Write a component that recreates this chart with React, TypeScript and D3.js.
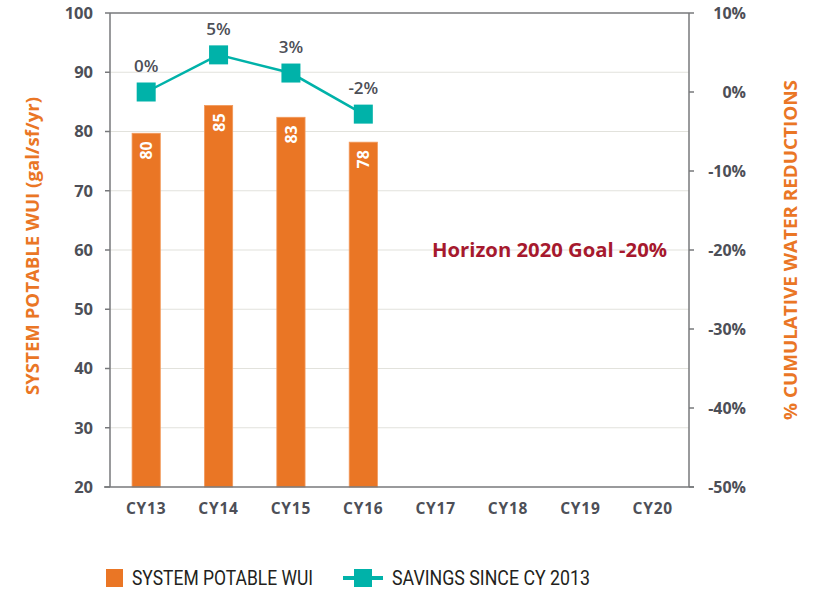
import React, { useRef, useEffect } from "react";
import * as d3 from "d3";

const years = ["CY13", "CY14", "CY15", "CY16", "CY17", "CY18", "CY19", "CY20"];
const wuiYears = ["CY13", "CY14", "CY15", "CY16"];
const wuiValues = [79.7, 84.4, 82.4, 78.2];
const wuiLabels = ["80", "85", "83", "78"];
const savingsValues = [0, 4.7, 2.4, -2.8];
const savingsLabels = ["0%", "5%", "3%", "-2%"];
const leftTicks = [20, 30, 40, 50, 60, 70, 80, 90, 100];
const rightTicks = [10, 0, -10, -20, -30, -40, -50];

const ORANGE = "#ea7625";
const TEAL = "#00b2a9";
const GREY = "#4d4f57";
const AXIS = "#77787b";
const FONT = "'Open Sans', Lato, sans-serif";
const LEGEND_FONT = "'Liberation Sans Narrow', Roboto, sans-serif";

const App: React.FC = () => {
  const ref = useRef<SVGSVGElement | null>(null);

  useEffect(() => {
    if (!ref.current) return;
    const svg = d3.select(ref.current);
    svg.selectAll("*").remove();

    const left = 110;
    const right = 689;
    const top = 13;
    const bottom = 487;

    const x = d3.scaleBand().domain(years).range([left, right]).paddingInner(0.61).paddingOuter(0.305);
    const yL = d3.scaleLinear().domain([20, 100]).range([bottom, top]);
    const yR = d3.scaleLinear().domain([-50, 10]).range([bottom, top]);
    const cx = (c: string) => x(c)! + x.bandwidth() / 2;

    // grid
    svg
      .append("g")
      .selectAll("line")
      .data(leftTicks.slice(1, -1))
      .enter()
      .append("line")
      .attr("x1", left)
      .attr("x2", right)
      .attr("y1", (d) => yL(d))
      .attr("y2", (d) => yL(d))
      .attr("stroke", "#e2e2dc")
      .attr("stroke-width", 1.2);

    // bars
    svg
      .append("g")
      .selectAll("rect")
      .data(wuiValues)
      .enter()
      .append("rect")
      .attr("x", (_, i) => x(wuiYears[i])!)
      .attr("width", x.bandwidth())
      .attr("y", (d) => yL(d))
      .attr("height", (d) => bottom - yL(d))
      .attr("fill", ORANGE)
      .attr("stroke", "#f29a5c")
      .attr("stroke-width", 0.8);

    svg
      .append("g")
      .selectAll("text")
      .data(wuiValues)
      .enter()
      .append("text")
      .attr("transform", (d, i) => `translate(${cx(wuiYears[i]) + 6},${yL(d) + 8}) rotate(-90)`)
      .attr("text-anchor", "end")
      .attr("fill", "#fff")
      .attr("font-family", FONT)
      .attr("font-weight", 700)
      .attr("font-size", 16)
      .text((_, i) => wuiLabels[i]);

    // frame
    const frame = svg.append("g").attr("stroke", AXIS).attr("stroke-width", 1.5).attr("fill", "none");
    frame.append("line").attr("x1", left).attr("x2", right).attr("y1", top).attr("y2", top);
    frame.append("line").attr("x1", left - 6).attr("x2", right + 5).attr("y1", bottom).attr("y2", bottom);
    frame.append("line").attr("x1", left).attr("x2", left).attr("y1", top).attr("y2", bottom);
    frame.append("line").attr("x1", right).attr("x2", right).attr("y1", top).attr("y2", bottom);

    // left axis
    const gL = svg.append("g");
    gL.selectAll("line")
      .data(leftTicks)
      .enter()
      .append("line")
      .attr("x1", left - 5)
      .attr("x2", left)
      .attr("y1", (d) => yL(d))
      .attr("y2", (d) => yL(d))
      .attr("stroke", AXIS)
      .attr("stroke-width", 1.5);
    gL.selectAll("text")
      .data(leftTicks)
      .enter()
      .append("text")
      .attr("x", 93)
      .attr("y", (d) => yL(d))
      .attr("dy", "0.35em")
      .attr("text-anchor", "end")
      .attr("fill", GREY)
      .attr("font-family", FONT)
      .attr("font-weight", 700)
      .attr("font-size", 16.5)
      .text((d) => d);

    // right axis
    const gR = svg.append("g");
    gR.selectAll("line")
      .data(rightTicks)
      .enter()
      .append("line")
      .attr("x1", right)
      .attr("x2", right + 5)
      .attr("y1", (d) => yR(d))
      .attr("y2", (d) => yR(d))
      .attr("stroke", AXIS)
      .attr("stroke-width", 1.5);
    gR.selectAll("text")
      .data(rightTicks)
      .enter()
      .append("text")
      .attr("x", 746)
      .attr("y", (d) => yR(d))
      .attr("dy", "0.35em")
      .attr("text-anchor", "end")
      .attr("fill", GREY)
      .attr("font-family", FONT)
      .attr("font-weight", 700)
      .attr("font-size", 16)
      .text((d) => `${d}%`);

    // x axis labels
    svg
      .append("g")
      .selectAll("text")
      .data(years)
      .enter()
      .append("text")
      .attr("x", (d) => cx(d))
      .attr("y", 514)
      .attr("text-anchor", "middle")
      .attr("fill", GREY)
      .attr("font-family", FONT)
      .attr("font-weight", 700)
      .attr("font-size", 15.5)
      .attr("letter-spacing", 0.8)
      .text((d) => d);

    // savings line
    const line = d3
      .line<number>()
      .x((_, i) => cx(wuiYears[i]))
      .y((d) => yR(d));
    svg
      .append("path")
      .datum(savingsValues)
      .attr("d", line)
      .attr("fill", "none")
      .attr("stroke", TEAL)
      .attr("stroke-width", 2.5);
    svg
      .append("g")
      .selectAll("rect")
      .data(savingsValues)
      .enter()
      .append("rect")
      .attr("x", (_, i) => cx(wuiYears[i]) - 9.5)
      .attr("y", (d) => yR(d) - 9.5)
      .attr("width", 19)
      .attr("height", 19)
      .attr("fill", TEAL);
    svg
      .append("g")
      .selectAll("text")
      .data(savingsValues)
      .enter()
      .append("text")
      .attr("x", (_, i) => cx(wuiYears[i]))
      .attr("y", (d) => yR(d) - 20)
      .attr("text-anchor", "middle")
      .attr("fill", GREY)
      .attr("font-family", FONT)
      .attr("font-weight", 600)
      .attr("font-size", 17)
      .text((_, i) => savingsLabels[i]);

    // goal annotation
    svg
      .append("text")
      .attr("x", 667)
      .attr("y", yR(-20))
      .attr("dy", "0.35em")
      .attr("text-anchor", "end")
      .attr("fill", "#a6192e")
      .attr("font-family", FONT)
      .attr("font-weight", 700)
      .attr("font-size", 19)
      .attr("textLength", 235)
      .attr("lengthAdjust", "spacingAndGlyphs")
      .text("Horizon 2020 Goal -20%");

    // axis titles
    svg
      .append("text")
      .attr("transform", `translate(39,${246}) rotate(-90)`)
      .attr("text-anchor", "middle")
      .attr("fill", ORANGE)
      .attr("font-family", FONT)
      .attr("font-weight", 700)
      .attr("font-size", 17)
      .attr("textLength", 298)
      .attr("lengthAdjust", "spacingAndGlyphs")
      .text("SYSTEM POTABLE WUI (gal/sf/yr)");
    svg
      .append("text")
      .attr("transform", `translate(797,${250}) rotate(-90)`)
      .attr("text-anchor", "middle")
      .attr("fill", ORANGE)
      .attr("font-family", FONT)
      .attr("font-weight", 700)
      .attr("font-size", 17)
      .attr("textLength", 340)
      .attr("lengthAdjust", "spacingAndGlyphs")
      .text("% CUMULATIVE WATER REDUCTIONS");

    // legend
    const lg = svg.append("g");
    lg.append("rect").attr("x", 106).attr("y", 569).attr("width", 17).attr("height", 18).attr("fill", ORANGE);
    lg.append("text")
      .attr("x", 132)
      .attr("y", 585)
      .attr("fill", "#231f20")
      .attr("font-family", LEGEND_FONT)
      .attr("font-size", 19.5)
      .attr("textLength", 181)
      .attr("lengthAdjust", "spacingAndGlyphs")
      .text("SYSTEM POTABLE WUI");
    lg.append("line")
      .attr("x1", 343)
      .attr("x2", 383)
      .attr("y1", 578)
      .attr("y2", 578)
      .attr("stroke", TEAL)
      .attr("stroke-width", 4);
    lg.append("rect").attr("x", 354).attr("y", 569).attr("width", 18).attr("height", 18).attr("fill", TEAL);
    lg.append("text")
      .attr("x", 392)
      .attr("y", 585)
      .attr("fill", "#231f20")
      .attr("font-family", LEGEND_FONT)
      .attr("font-size", 19.5)
      .attr("textLength", 198)
      .attr("lengthAdjust", "spacingAndGlyphs")
      .text("SAVINGS SINCE CY 2013");
  }, []);

  return (
    <svg
      ref={ref}
      width={820}
      height={593}
      style={{ display: "block", position: "absolute", left: 0, top: 0, background: "#fff" }}
    />
  );
};

export default App;
